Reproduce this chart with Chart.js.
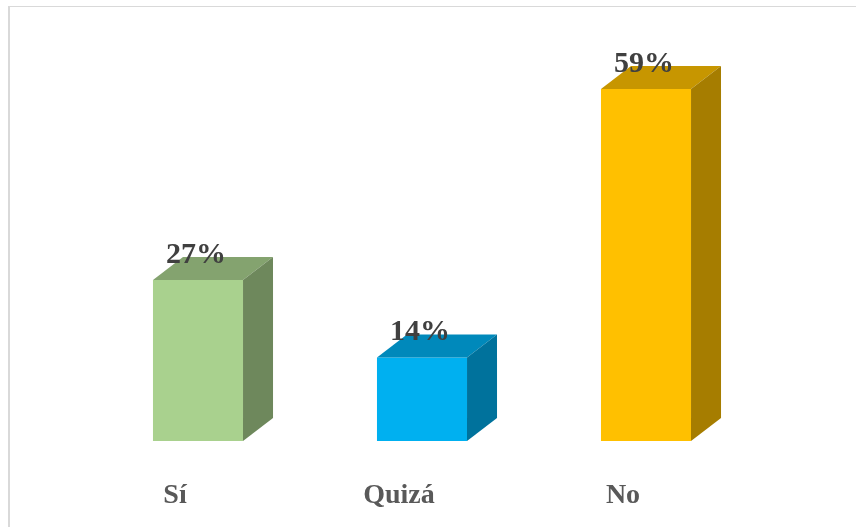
<!DOCTYPE html>
<html>
<head>
<meta charset="utf-8">
<script src="https://cdn.jsdelivr.net/npm/chart.js@4/dist/chart.umd.min.js"></script>
<style>
  html, body { margin: 0; padding: 0; background: #ffffff; overflow: hidden; }
  #wrap { position: relative; width: 856px; height: 527px; }
  #frame { position: absolute; left: 8px; top: 6px; width: 900px; height: 600px;
           border-left: 2px solid #d9d9d9; border-top: 1px solid #d9d9d9; }
  canvas { position: absolute; left: 0; top: 0; }
</style>
</head>
<body>
<div id="wrap">
  <div id="frame"></div>
  <canvas id="chart" width="856" height="527"></canvas>
</div>
<script>
// Survey answers and their shares (%)
const categories = ['Sí', 'Quizá', 'No'];
const values = [27, 14, 59];
const valueLabels = ['27%', '14%', '59%'];

// Face colours for each bar: front, top, side
const frontColors = ['#A9D18E', '#00B0F0', '#FFC000'];
const topColors   = ['#84A36F', '#0089BB', '#C79600'];
const sideColors  = ['#6E885C', '#00729C', '#A67D00'];

const DEPTH_X = 30;
const DEPTH_Y = 23;

// Draws the top and right faces of each bar, then the value and category labels
const boxPlugin = {
  id: 'box3d',
  afterDatasetsDraw(chart) {
    const ctx = chart.ctx;
    const meta = chart.getDatasetMeta(0);
    const xScale = chart.scales.x;
    ctx.save();
    meta.data.forEach((bar, i) => {
      const p = bar.getProps(['x', 'y', 'base', 'width'], true);
      const l = p.x - p.width / 2, r = p.x + p.width / 2;
      const t = p.y, b = p.base;
      // top face
      ctx.fillStyle = topColors[i];
      ctx.beginPath();
      ctx.moveTo(l, t);
      ctx.lineTo(l + DEPTH_X, t - DEPTH_Y);
      ctx.lineTo(r + DEPTH_X, t - DEPTH_Y);
      ctx.lineTo(r, t);
      ctx.closePath();
      ctx.fill();
      // side face
      ctx.fillStyle = sideColors[i];
      ctx.beginPath();
      ctx.moveTo(r, t);
      ctx.lineTo(r + DEPTH_X, t - DEPTH_Y);
      ctx.lineTo(r + DEPTH_X, b - DEPTH_Y);
      ctx.lineTo(r, b);
      ctx.closePath();
      ctx.fill();
    });
    // value labels
    ctx.font = 'bold 30px "Liberation Serif", "Times New Roman", serif';
    ctx.fillStyle = '#404040';
    ctx.textAlign = 'center';
    ctx.textBaseline = 'alphabetic';
    meta.data.forEach((bar, i) => {
      const p = bar.getProps(['x', 'y'], true);
      ctx.fillText(valueLabels[i], p.x - 2, p.y - 17);
    });
    // category labels
    ctx.font = 'bold 28px "Liberation Serif", "Times New Roman", serif';
    ctx.fillStyle = '#595959';
    categories.forEach((c, i) => {
      ctx.fillText(c, xScale.getPixelForValue(i) - 23, 503);
    });
    ctx.restore();
  }
};

new Chart(document.getElementById('chart'), {
  type: 'bar',
  data: {
    labels: categories,
    datasets: [{
      data: values,
      backgroundColor: frontColors,
      borderWidth: 0,
      barPercentage: 0.402,
      categoryPercentage: 1.0
    }]
  },
  options: {
    responsive: false,
    animation: false,
    layout: { padding: { left: 86, right: 98, top: 83, bottom: 86 } },
    plugins: { legend: { display: false }, tooltip: { enabled: false } },
    scales: {
      x: { display: false, offset: true },
      y: { display: false, min: 0, max: 60 }
    }
  },
  plugins: [boxPlugin]
});
</script>
</body>
</html>
